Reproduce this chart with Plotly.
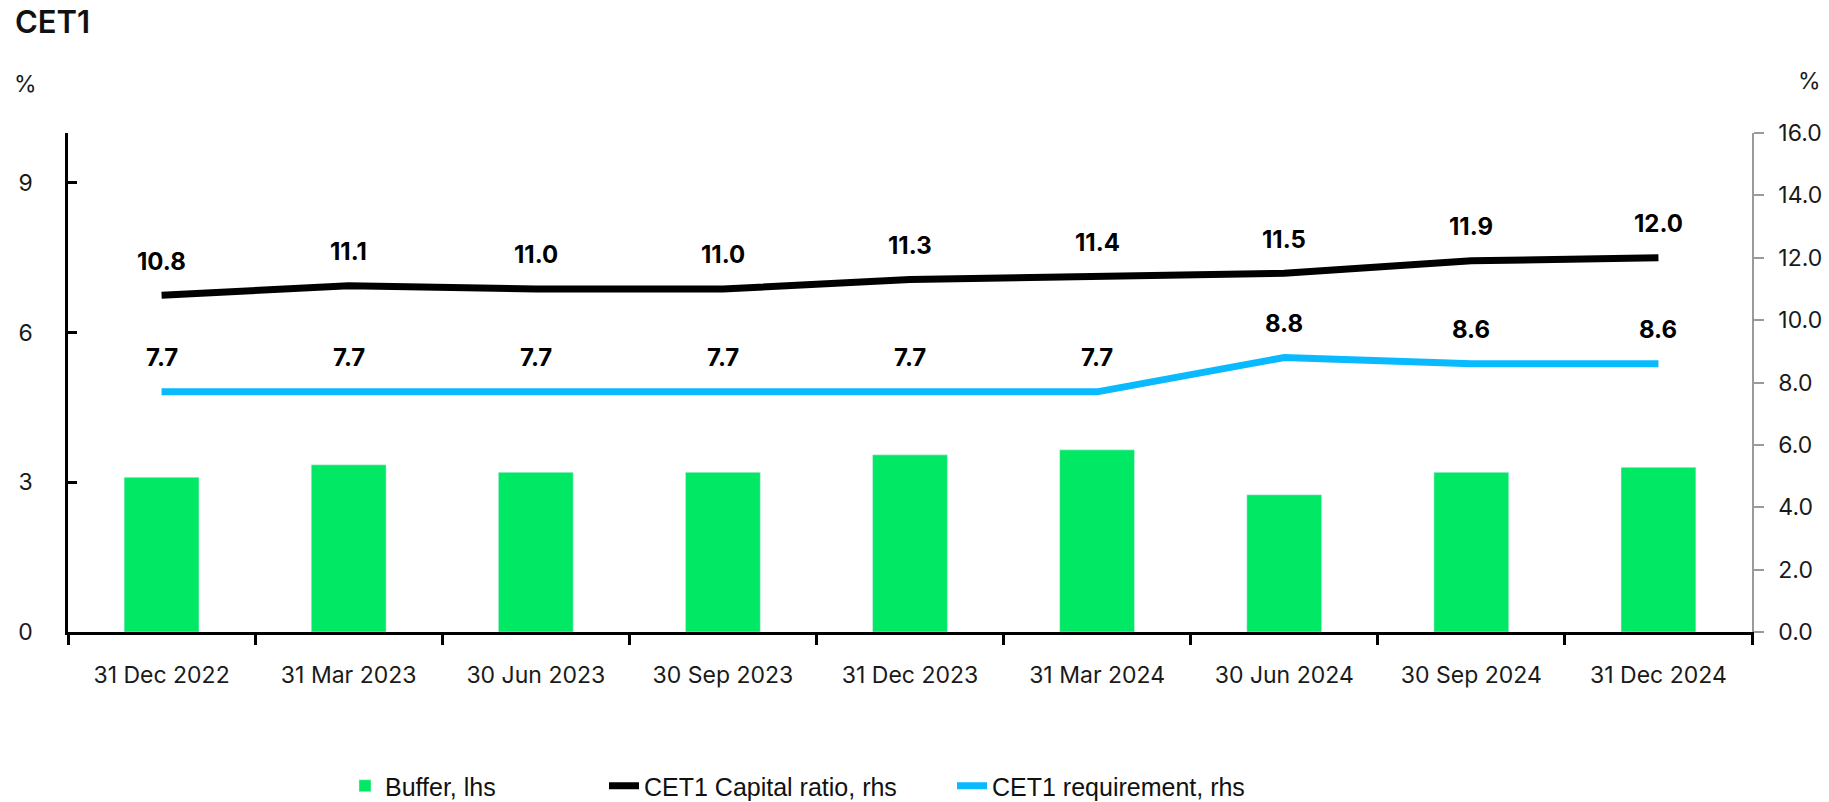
import plotly.graph_objects as go

categories = ["31 Dec 2022", "31 Mar 2023", "30 Jun 2023", "30 Sep 2023", "31 Dec 2023",
              "31 Mar 2024", "30 Jun 2024", "30 Sep 2024", "31 Dec 2024"]
buffer_lhs = [3.1, 3.35, 3.2, 3.2, 3.55, 3.65, 2.75, 3.2, 3.3]
cet1_ratio = [10.8, 11.1, 11.0, 11.0, 11.3, 11.4, 11.5, 11.9, 12.0]
cet1_requirement = [7.7, 7.7, 7.7, 7.7, 7.7, 7.7, 8.8, 8.6, 8.6]
left_ticks = [0, 3, 6, 9]
right_ticks = [0, 2, 4, 6, 8, 10, 12, 14, 16]

GREEN = "#00E864"
BLUE = "#0ABAFF"
BLACK = "#000000"
TICKFONT = dict(family="Inter, Lato, sans-serif", size=23, color="#1a1a1a")
LEGFONT = dict(family="Liberation Sans, Arial, sans-serif", size=25, color="#111")

W, H = 1829, 802
L, R, T, B = 68, 77, 133, 170
pw, ph = W - L - R, H - T - B


def px_x(px):
    return (px - L) / pw


def px_y(py):
    return (H - B - py) / ph


fig = go.Figure()
fig.add_trace(go.Bar(x=categories, y=buffer_lhs, name="Buffer, lhs", marker_color=GREEN,
                     yaxis="y", legend="legend"))
fig.add_trace(go.Scatter(x=categories, y=cet1_ratio, name="CET1 Capital ratio, rhs", mode="lines",
                         line=dict(color=BLACK, width=7), yaxis="y2", legend="legend2"))
fig.add_trace(go.Scatter(x=categories, y=cet1_requirement, name="CET1 requirement, rhs", mode="lines",
                         line=dict(color=BLUE, width=7), yaxis="y2", legend="legend3"))

annotations = []
for series in (cet1_ratio, cet1_requirement):
    for c, v in zip(categories, series):
        annotations.append(dict(x=c, y=v, xref="x", yref="y2", yshift=34, showarrow=False,
                                text=f"{v:.1f}",
                                font=dict(family="Inter, Lato, sans-serif", size=24, color=BLACK, weight=700)))

annotations.append(dict(x=px_x(25), y=px_y(84), xref="paper", yref="paper", text="%", showarrow=False,
                        xanchor="center", yanchor="middle", font=TICKFONT))
annotations.append(dict(x=px_x(1809), y=px_y(81), xref="paper", yref="paper", text="%", showarrow=False,
                        xanchor="center", yanchor="middle", font=TICKFONT))

leg_common = dict(orientation="h", xref="container", yref="container", y=(H - 786) / H,
                  yanchor="middle", xanchor="left", bgcolor="rgba(0,0,0,0)", font=LEGFONT)

fig.update_layout(
    width=W, height=H,
    margin=dict(l=L, r=R, t=T, b=B, autoexpand=False),
    paper_bgcolor="white", plot_bgcolor="white",
    title=dict(text="CET1", x=15 / W, xanchor="left", y=1 - 22 / H, yanchor="middle",
               font=dict(family="Inter, Lato, sans-serif", size=31, color="#111", weight=600)),
    bargap=0.6,
    xaxis=dict(type="category", tickson="boundaries", ticks="outside", ticklen=10, tickwidth=2.5,
               tickcolor=BLACK, showline=True, linecolor=BLACK, linewidth=2.5, showgrid=False,
               tickfont=TICKFONT, ticklabelstandoff=21, automargin=False),
    yaxis=dict(range=[0, 10], tickvals=left_ticks, ticks="inside", ticklen=9, tickwidth=2.5,
               tickcolor=BLACK, showline=True, linecolor=BLACK, linewidth=2.5, showgrid=False,
               zeroline=False, tickfont=TICKFONT, ticklabelstandoff=28, automargin=False),
    yaxis2=dict(range=[0, 16], tickvals=right_ticks, tickformat=".1f", overlaying="y", side="right",
                ticks="outside", ticklen=10, tickwidth=1.5, tickcolor="#9a9a9a", showline=True,
                linecolor="#9a9a9a", linewidth=1.5, showgrid=False, zeroline=False,
                tickfont=TICKFONT, ticklabelstandoff=10, automargin=False),
    legend=dict(x=345 / W, **leg_common),
    legend2=dict(x=604 / W, **leg_common),
    legend3=dict(x=952 / W, **leg_common),
    annotations=annotations,
    showlegend=True,
)

fig.write_html("out.html", config={"displayModeBar": False},
               post_script="document.body.style.margin='0';document.body.style.padding='0';"
                           "document.documentElement.style.overflow='hidden';")
